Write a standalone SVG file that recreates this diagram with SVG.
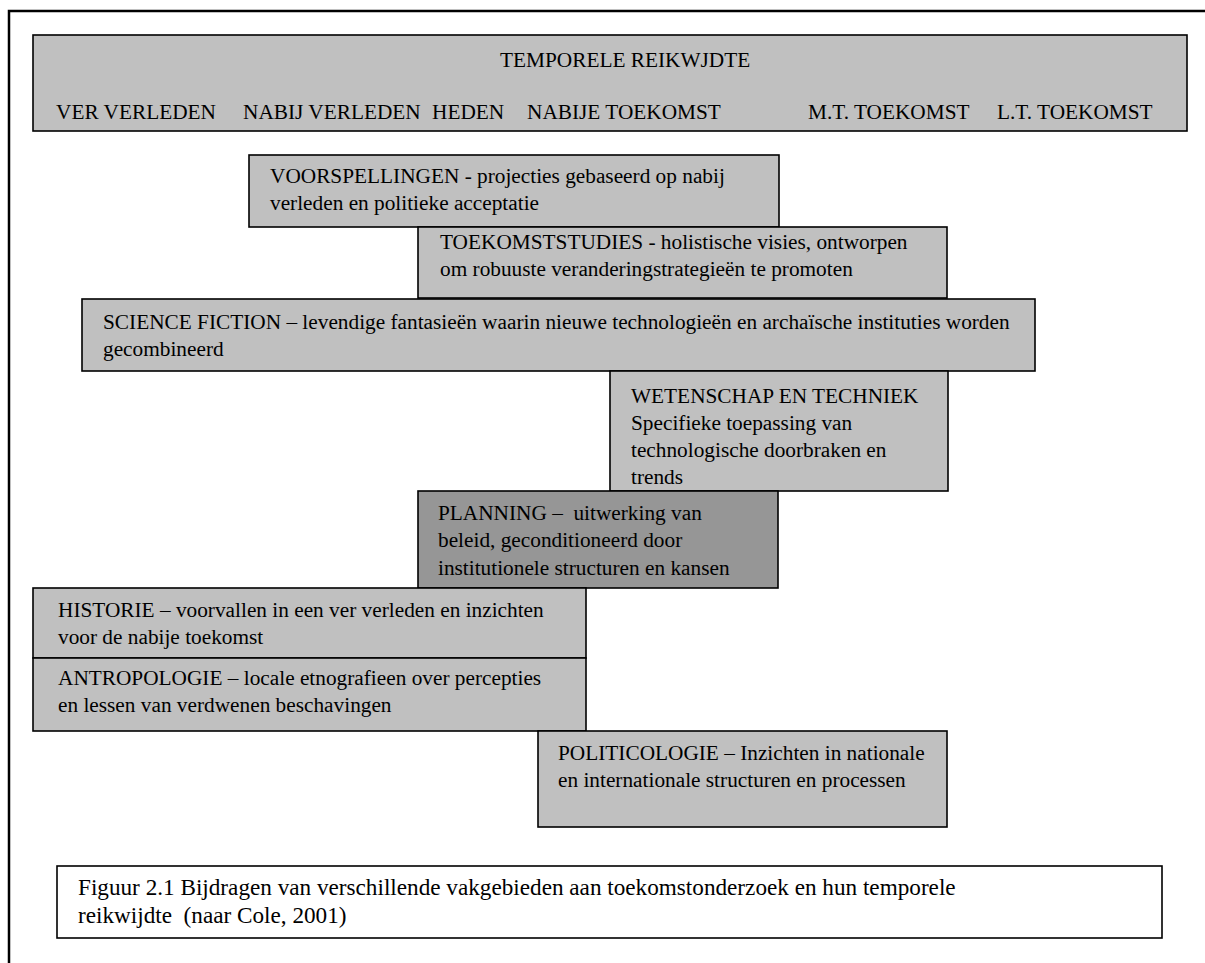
<svg xmlns="http://www.w3.org/2000/svg" width="1205" height="963" viewBox="0 0 1205 963">
  <style>
    .box { fill: #c0c0c0; stroke: #000; stroke-width: 1.6; }
    .dark { fill: #969696; }
    .cap { fill: #fff; stroke: #000; stroke-width: 1.6; }
    text { font-family: "Liberation Serif", "Times New Roman", serif; font-size: 21.3px; fill: #000; }
    .big { font-size: 23.2px; }
  </style>
  <rect width="1205" height="963" fill="#fff"/>
  <!-- outer frame, runs off the right and bottom edges -->
  <rect x="9" y="11" width="1220" height="980" fill="none" stroke="#000" stroke-width="2.5"/>

  <g id="header">
    <rect class="box" x="33" y="35" width="1154" height="96"/>
    <text x="500" y="67">TEMPORELE REIKWJDTE</text>
    <text x="56" y="119">VER VERLEDEN</text>
    <text x="243" y="119">NABIJ VERLEDEN</text>
    <text x="432" y="119">HEDEN</text>
    <text x="527" y="119">NABIJE TOEKOMST</text>
    <text x="808" y="119">M.T. TOEKOMST</text>
    <text x="997" y="119">L.T. TOEKOMST</text>
  </g>

  <g id="voorspellingen">
    <rect class="box" x="249" y="155" width="530" height="72"/>
    <text x="270" y="183">VOORSPELLINGEN - projecties gebaseerd op nabij</text>
    <text x="270" y="210.3">verleden en politieke acceptatie</text>
  </g>

  <g id="toekomststudies">
    <rect class="box" x="418" y="227" width="529" height="71"/>
    <text x="440" y="249">TOEKOMSTSTUDIES - holistische visies, ontworpen</text>
    <text x="440" y="276.3">om robuuste veranderingstrategieën te promoten</text>
  </g>

  <g id="sciencefiction">
    <rect class="box" x="82" y="299" width="953" height="72"/>
    <text x="103" y="329">SCIENCE FICTION – levendige fantasieën waarin nieuwe technologieën en archaïsche instituties worden</text>
    <text x="103" y="356.3">gecombineerd</text>
  </g>

  <g id="wetenschap">
    <rect class="box" x="610" y="371" width="338" height="120"/>
    <text x="631" y="402.5">WETENSCHAP EN TECHNIEK</text>
    <text x="631" y="429.8">Specifieke toepassing van</text>
    <text x="631" y="457.1">technologische doorbraken en</text>
    <text x="631" y="484.4">trends</text>
  </g>

  <g id="planning">
    <rect class="box dark" x="418" y="491" width="360" height="97"/>
    <text x="438" y="520" xml:space="preserve">PLANNING –  uitwerking van</text>
    <text x="438" y="547.3">beleid, geconditioneerd door</text>
    <text x="438" y="574.6">institutionele structuren en kansen</text>
  </g>

  <g id="historie">
    <rect class="box" x="33" y="588" width="553" height="70"/>
    <text x="58" y="617">HISTORIE – voorvallen in een ver verleden en inzichten</text>
    <text x="58" y="644.3">voor de nabije toekomst</text>
  </g>

  <g id="antropologie">
    <rect class="box" x="33" y="658" width="553" height="73"/>
    <text x="58" y="685">ANTROPOLOGIE – locale etnografieen over percepties</text>
    <text x="58" y="712.3">en lessen van verdwenen beschavingen</text>
  </g>

  <g id="politicologie">
    <rect class="box" x="538" y="731" width="409" height="96"/>
    <text x="558" y="760">POLITICOLOGIE – Inzichten in nationale</text>
    <text x="558" y="787.3">en internationale structuren en processen</text>
  </g>

  <g id="caption">
    <rect class="cap" x="57" y="866" width="1105" height="72"/>
    <text class="big" x="78" y="895">Figuur 2.1 Bijdragen van verschillende vakgebieden aan toekomstonderzoek en hun temporele</text>
    <text class="big" x="78" y="923" xml:space="preserve">reikwijdte  (naar Cole, 2001)</text>
  </g>

  <g id="connectors"/>
</svg>
